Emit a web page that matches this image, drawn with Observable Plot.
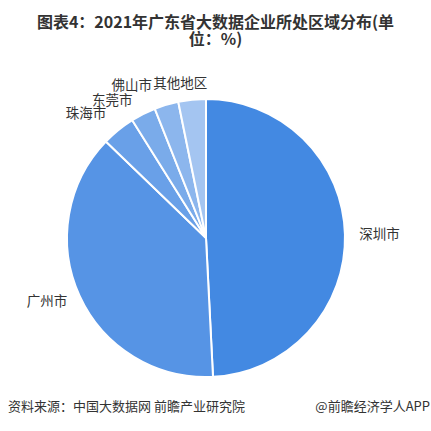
<!DOCTYPE html>
<html>
<head>
<meta charset="utf-8">
<script src="https://cdn.jsdelivr.net/npm/d3@7"></script>
<script src="https://cdn.jsdelivr.net/npm/@observablehq/plot@0.6"></script>
<style>
  html, body { margin: 0; padding: 0; background: #fff; }
  body { width: 431px; height: 431px; overflow: hidden; font-family: "Noto Sans CJK SC", "Noto Sans", sans-serif; }
  #title { text-align: center; font-weight: bold; font-size: 16px; line-height: 17px; color: #333; padding-top: 13px; height: 35px; }
  #chart { height: 345px; }
  #footer { position: relative; height: 20px; font-size: 13px; color: #333; }
  #footer .l { position: absolute; left: 8px; top: 3px; }
  #footer .r { position: absolute; right: 1px; top: 3px; }
</style>
</head>
<body>
<div id="title">图表4：2021年广东省大数据企业所处区域分布(单<br>位：%)</div>
<div id="chart"></div>
<div id="footer"><span class="l">资料来源：中国大数据网 前瞻产业研究院</span><span class="r">@前瞻经济学人APP</span></div>
<script>
// Data (order: clockwise from 12 o'clock)
const regions = ["深圳市", "广州市", "珠海市", "东莞市", "佛山市", "其他地区"];
const shares  = [49.2, 38.0, 3.9, 2.9, 2.8, 3.2];
const colors  = ["#4389e2", "#5694e5", "#69a0e8", "#7aabea", "#8cb6ed", "#a4c5f1"];

const table = regions.map((name, i) => ({name, value: shares[i]}));
const arcs = d3.pie().sort(null).value(d => d.value)(table)
  .map(a => ({name: a.data.name, value: a.data.value, startAngle: a.startAngle, endAngle: a.endAngle, mid: (a.startAngle + a.endAngle) / 2}));

// label layout (pixel nudges for crowded labels near the top)
const labelR = 1.1;
const nudge = {"佛山市": [-11, -6], "其他地区": [16, -3], "珠海市": [-4, -6], "东莞市": [-5, -1]};
const labels = arcs.map(a => ({
  name: a.name,
  x: Math.sin(a.mid) * labelR,
  y: Math.cos(a.mid) * labelR,
  side: Math.sin(a.mid) >= 0 ? "right" : "left",
  ndx: (nudge[a.name] || [0, 0])[0],
  ndy: (nudge[a.name] || [0, 0])[1]
}));

const cx = 206, cy = 190, R = 139;

function wedges(data, options) {
  return Plot.dot(data, {
    ...options,
    x: () => 0,
    y: () => 0,
    fill: "name",
    render(index, scales, values, dimensions) {
      const X0 = scales.x(0), Y0 = scales.y(0);
      const r = scales.x(1) - scales.x(0);
      const arc = d3.arc().innerRadius(0).outerRadius(r);
      const g = d3.create("svg:g").attr("transform", `translate(${X0},${Y0})`);
      g.selectAll("path").data(index).join("path")
        .attr("d", i => arc(data[i]))
        .attr("fill", i => values.fill[i])
        .attr("stroke", "#fff")
        .attr("stroke-width", 2)
        .attr("stroke-linejoin", "round");
      return g.node();
    }
  });
}

function labelMark(side, anchor) {
  const L = labels.filter(l => l.side === side);
  return Plot.text(L, {
    x: "x", y: "y", text: "name", textAnchor: anchor,
    fontSize: 13.5, fill: "#333",
    render(index, scales, values, dims, ctx, next) {
      const node = next(index, scales, values, dims, ctx);
      d3.select(node).selectAll("text").each(function(_, k) {
        const i = index[k], d = L[i];
        d3.select(this).attr("transform", `translate(${values.x[i] + d.ndx},${values.y[i] + d.ndy})`);
      });
      return node;
    }
  });
}

const plot = Plot.plot({
  width: 431,
  height: 345,
  margin: 0,
  style: {fontFamily: "'Noto Sans CJK SC', sans-serif", background: "#fff"},
  x: {domain: [-1, 1], range: [cx - R, cx + R], axis: null},
  y: {domain: [-1, 1], range: [cy + R, cy - R], axis: null},
  color: {domain: regions, range: colors},
  marks: [
    wedges(arcs),
    labelMark("right", "start"),
    labelMark("left", "end")
  ]
});
document.getElementById("chart").appendChild(plot);
</script>
</body>
</html>
